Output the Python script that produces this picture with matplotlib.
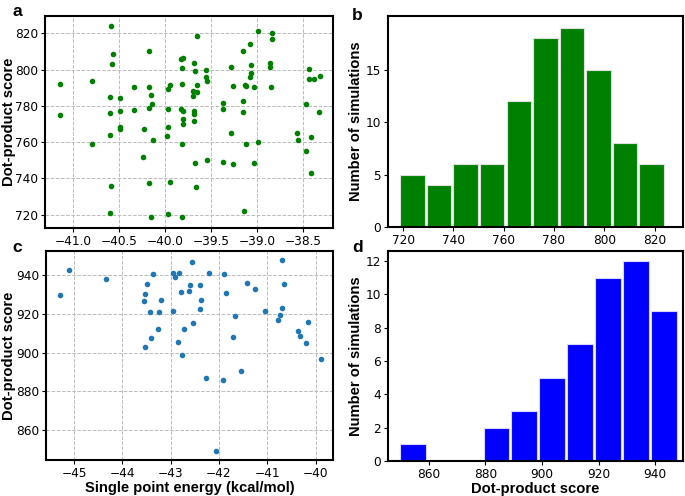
import matplotlib
matplotlib.use('Agg')
import matplotlib.pyplot as plt
import numpy as np

# panel a: single point energy vs dot-product score (first system)
energy_a = [-41.15, -41.15, -40.80, -40.80, -40.59, -40.57, -40.58, -40.60, -40.60, -40.60,
            -40.59, -40.60, -40.49, -40.49, -40.49, -40.49, -40.34, -40.34, -40.23, -40.24,
            -40.18, -40.18, -40.18, -40.18, -40.15, -40.14, -40.13, -40.15, -39.97, -39.97,
            -39.95, -39.97, -39.98, -39.95, -39.97, -39.83, -39.81, -39.82, -39.82, -39.83,
            -39.81, -39.81, -39.81, -39.82, -39.82, -39.69, -39.68, -39.70, -39.70, -39.65,
            -39.65, -39.69, -39.69, -39.69, -39.68, -39.66, -39.65, -39.56, -39.56, -39.54,
            -39.54, -39.37, -39.37, -39.37, -39.28, -39.28, -39.26, -39.26, -39.15, -39.15,
            -39.15, -39.14, -39.12, -39.12, -39.08, -39.08, -39.06, -39.06, -39.03, -39.03,
            -38.99, -38.99, -38.86, -38.86, -38.85, -38.83, -38.83, -38.56, -38.55, -38.46,
            -38.46, -38.43, -38.43, -38.38, -38.31, -38.32, -38.41, -38.41, -39.13]
score_a = [791.8, 775.1, 793.7, 758.9, 824.1, 808.8, 803.2, 785.0, 775.8, 763.8,
           735.8, 720.9, 784.1, 776.9, 768.3, 767.5, 790.2, 777.8, 767.1, 751.9,
           810.4, 790.2, 778.7, 737.3, 786.1, 781.1, 761.1, 718.5, 778.4, 789.1,
           791.6, 768.3, 763.3, 738.2, 720.6, 805.8, 806.6, 800.7, 791.8, 778.0,
           776.9, 773.0, 770.1, 758.9, 718.5, 803.4, 799.2, 788.0, 785.4, 791.6,
           787.4, 776.9, 775.6, 771.5, 748.5, 735.3, 818.5, 799.7, 795.9, 793.8,
           750.0, 781.7, 778.0, 749.1, 801.6, 764.9, 791.1, 747.8, 810.1, 782.8,
           776.5, 722.2, 791.1, 758.9, 814.3, 796.1, 798.1, 802.3, 790.5, 748.5,
           821.3, 760.3, 803.8, 801.4, 790.2, 820.2, 816.9, 765.3, 761.0, 781.0,
           755.2, 800.5, 795.0, 794.6, 796.4, 776.7, 762.9, 743.0, 791.3]

# panel c: second system
energy_c = [-45.30, -45.11, -44.33, -43.36, -43.49, -43.53, -43.55, -43.42, -43.21, -43.25,
            -43.26, -43.41, -43.53, -42.96, -42.83, -42.91, -42.78, -42.95, -42.85, -42.76,
            -42.72, -42.56, -42.59, -42.63, -42.53, -42.21, -42.39, -42.38, -42.39, -42.27,
            -41.89, -41.85, -41.67, -41.72, -41.92, -42.06, -41.55, -41.43, -41.26, -41.05,
            -40.69, -40.65, -40.69, -40.74, -40.78, -40.36, -40.33, -40.15, -40.19, -39.89]
score_c = [929.9, 942.4, 937.9, 940.7, 935.4, 930.1, 926.6, 921.1, 927.3, 921.1,
           912.0, 907.4, 903.1, 940.9, 940.9, 938.8, 931.4, 921.3, 905.5, 898.6,
           912.0, 946.5, 934.9, 931.8, 915.4, 940.9, 934.7, 927.3, 922.3, 887.2,
           940.4, 930.6, 919.0, 907.9, 885.9, 849.4, 890.7, 936.0, 932.9, 921.3,
           947.9, 935.4, 923.0, 919.4, 916.8, 911.3, 908.7, 915.8, 904.8, 896.9]

W, H = 685, 496
label_font = {'family': 'Liberation Sans', 'weight': 'bold', 'size': 10.6}

fig = plt.figure(figsize=(6.85, 4.96), dpi=100)

def axes_px(left, top, right, bottom):
    # axes box given in pixels from the top-left corner
    return fig.add_axes([left / W, 1 - bottom / H, (right - left) / W, (bottom - top) / H])

ax_a = axes_px(45, 16, 333, 228)
ax_b = axes_px(388, 16, 683, 227)
ax_c = axes_px(46, 251, 333, 460)
ax_d = axes_px(388, 251, 683, 461)

# scatter panels
ax_a.scatter(energy_a, score_a, s=9, color='green', zorder=3)
ax_a.set_xlim(-41.31, -38.17)
ax_a.set_ylim(712.6, 829.6)
ax_a.set_xticks([-41.0, -40.5, -40.0, -39.5, -39.0, -38.5])
ax_a.set_yticks([720, 740, 760, 780, 800, 820])
ax_a.set_ylabel('Dot-product score', fontdict=label_font)
ax_a.yaxis.set_label_coords(-0.101, 0.5)

ax_c.scatter(energy_c, score_c, s=9, color='#1f77b4', zorder=3)
ax_c.set_xlim(-45.58, -39.64)
ax_c.set_ylim(844.7, 952.4)
ax_c.set_xticks([-45, -44, -43, -42, -41, -40])
ax_c.set_yticks([860, 880, 900, 920, 940])
ax_c.set_ylabel('Dot-product score', fontdict=label_font)
ax_c.yaxis.set_label_coords(-0.1045, 0.5)
ax_c.set_xlabel('Single point energy (kcal/mol)', fontdict=label_font)
ax_c.xaxis.set_label_coords(0.5, -0.102)

for ax in (ax_a, ax_c):
    ax.grid(True, linestyle='--', color='#bbbbbb', linewidth=0.7)

# histograms of the scores
ax_b.hist(score_a, bins=10, rwidth=0.92, color='green', edgecolor='#e0e0e0', linewidth=0.8)
ax_b.set_xlim(714.0, 831.3)
ax_b.set_ylim(0, 20.1)
ax_b.set_xticks([720, 740, 760, 780, 800, 820])
ax_b.set_yticks([0, 5, 10, 15])
ax_b.set_ylabel('Number of simulations', fontdict=label_font)
ax_b.yaxis.set_label_coords(-0.085, 0.5)

ax_d.hist(score_c, bins=10, rwidth=0.92, color='blue', edgecolor='#d8d8ff', linewidth=0.8)
ax_d.set_xlim(845.6, 949.8)
ax_d.set_ylim(0, 12.6)
ax_d.set_xticks([860, 880, 900, 920, 940])
ax_d.set_yticks([0, 2, 4, 6, 8, 10, 12])
ax_d.set_ylabel('Number of simulations', fontdict=label_font)
ax_d.yaxis.set_label_coords(-0.085, 0.5)
ax_d.set_xlabel('Dot-product score', fontdict=label_font)
ax_d.xaxis.set_label_coords(0.5, -0.1)

for ax in (ax_a, ax_b, ax_c, ax_d):
    ax.tick_params(labelsize=8.7, length=3, pad=2)
    for sp in ax.spines.values():
        sp.set_linewidth(1.5)

# panel letters
for letter, x, y in [('a', 12, 16), ('b', 352, 20), ('c', 12, 252), ('d', 352, 252)]:
    fig.text(x / W, 1 - y / H, letter, fontfamily='Liberation Sans', fontweight='bold',
             fontsize=12.5, ha='left', va='baseline')

fig.savefig('out.png', dpi=100)
